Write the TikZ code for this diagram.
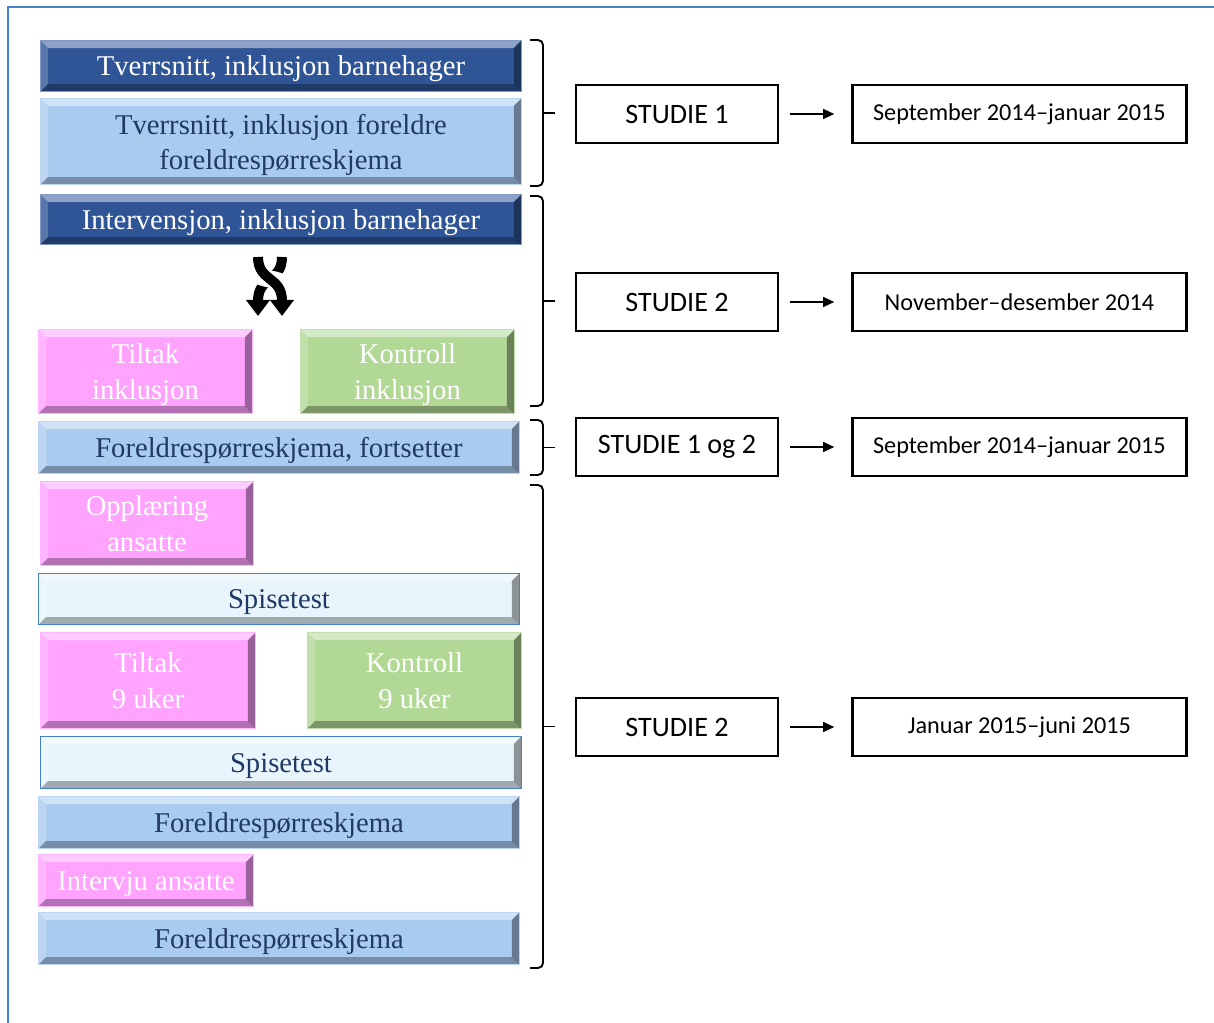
\documentclass[tikz,border=0pt]{standalone}
\usepackage{fontspec}
\newfontfamily\barfont{Liberation Serif}
\newfontfamily\studfont{Carlito}
\usepackage{xcolor}
\usepackage{tikz}
\usetikzlibrary{positioning,calc,arrows.meta}
\definecolor{barDark}{RGB}{47,85,151}
\definecolor{barLight}{RGB}{170,203,240}
\definecolor{barPale}{RGB}{232,245,252}
\definecolor{barPink}{RGB}{255,163,255}
\definecolor{barGreen}{RGB}{178,216,150}
\definecolor{barText}{RGB}{31,56,100}
\definecolor{frameBlue}{RGB}{68,130,200}

\tikzset{
	bevel/.style={path picture={
			\path (path picture bounding box.north west) coordinate (bvNW)
			(path picture bounding box.north east) coordinate (bvNE)
			(path picture bounding box.south east) coordinate (bvSE)
			(path picture bounding box.south west) coordinate (bvSW);
			\fill[white, opacity=0.45] (bvNW) -- (bvNE) -- ([shift={(-0.15cm,-0.15cm)}]bvNE) -- ([shift={(0.15cm,-0.15cm)}]bvNW) -- cycle;
			\fill[white, opacity=0.2] (bvNW) -- ([shift={(0.15cm,-0.15cm)}]bvNW) -- ([shift={(0.15cm,0.15cm)}]bvSW) -- (bvSW) -- cycle;
			\fill[black, opacity=0.3] (bvSW) -- ([shift={(0.15cm,0.15cm)}]bvSW) -- ([shift={(-0.15cm,0.15cm)}]bvSE) -- (bvSE) -- cycle;
			\fill[black, opacity=0.4] (bvNE) -- (bvSE) -- ([shift={(-0.15cm,0.15cm)}]bvSE) -- ([shift={(-0.15cm,-0.15cm)}]bvNE) -- cycle;
	}}
}

\begin{document}
\begin{tikzpicture}[
		x=0.02cm, y=-0.02cm,
		bar/.style={anchor=north west, inner sep=0pt, align=center, line width=0.6pt, bevel,
			text depth=0pt, font=\barfont\fontsize{16.3}{20}\selectfont},
		darkbar/.style={bar, fill=barDark, draw=barDark!60!white, text=white},
		lightbar/.style={bar, fill=barLight, draw=barLight!80!white, text=barText},
		palebar/.style={bar, fill=barPale, draw=frameBlue, text=barText},
		pinkbar/.style={bar, fill=barPink, draw=barPink!80!white, text=white},
		greenbar/.style={bar, fill=barGreen, draw=barGreen!80!white, text=white},
		studbox/.style={draw, line width=1.4pt, minimum width=4.04cm, minimum height=1.16cm,
			font=\studfont\fontsize{16}{19}\selectfont},
		datebox/.style={draw, line width=1.4pt, minimum width=6.68cm, minimum height=1.16cm,
			font=\studfont\fontsize{13.8}{17}\selectfont},
		link/.style={-{Triangle[width=0.2cm,length=0.22cm]}, line width=0.6pt,
			shorten <=0.22cm, shorten >=0.34cm},
		brk/.style={line width=1.1pt, rounded corners=0.1cm},
		twist/.style={line width=0.2cm, -{Triangle[width=0.46cm,length=0.32cm]}}
		]
		
		\useasboundingbox (0,0) rectangle (1214,1023);
		\draw[frameBlue, line width=0.8pt] (8,1023) -- (8,7) -- (1214,7);
		
		% ===== venstre kolonne =====
		\node[darkbar, minimum width=9.62cm, minimum height=1.02cm] (tvBarn) at (40,40) {Tverrsnitt, inklusjon barnehager};
		\node[lightbar, minimum width=9.62cm, minimum height=1.72cm] (tvForeldre) at (40,98) {Tverrsnitt, inklusjon foreldre\\foreldrespørreskjema};
		\node[darkbar, minimum width=9.62cm, minimum height=1.0cm] (intBarn) at (40,194) {Intervensjon, inklusjon barnehager};
		
		% ===== kryssende piler =====
		\draw[twist] (282,257) .. controls (282,282) and (258,276) .. (258,316);
		\draw[white, line width=0.34cm, shorten <=0.3cm, shorten >=0.6cm] (258,257) .. controls (258,282) and (282,276) .. (282,316);
		\draw[twist] (258,257) .. controls (258,282) and (282,276) .. (282,316);
		
		\node[pinkbar, minimum width=4.28cm, minimum height=1.68cm] (tiltakInkl) at (38,329) {Tiltak\\inklusjon};
		\node[greenbar, minimum width=4.28cm, minimum height=1.68cm] (kontrollInkl) at (300,329) {Kontroll\\inklusjon};
		\node[lightbar, minimum width=9.62cm, minimum height=1.04cm] (forFortsetter) at (38,421) {Foreldrespørreskjema, fortsetter};
		\node[pinkbar, minimum width=4.26cm, minimum height=1.68cm] (opplaering) at (40,481) {Opplæring\\ansatte};
		\node[palebar, minimum width=9.62cm, minimum height=1.02cm] (spise1) at (38,573) {Spisetest};
		\node[pinkbar, minimum width=4.3cm, minimum height=1.92cm] (tiltak9) at (40,632) {Tiltak\\9 uker};
		\node[greenbar, minimum width=4.28cm, minimum height=1.92cm] (kontroll9) at (307,632) {Kontroll\\9 uker};
		\node[palebar, minimum width=9.62cm, minimum height=1.04cm] (spise2) at (40,736) {Spisetest};
		\node[lightbar, minimum width=9.62cm, minimum height=1.04cm] (foreldre1) at (38,796) {Foreldrespørreskjema};
		\node[pinkbar, minimum width=4.3cm, minimum height=1.04cm] (intervju) at (38,854) {Intervju ansatte};
		\node[lightbar, minimum width=9.62cm, minimum height=1.04cm] (foreldre2) at (38,912) {Foreldrespørreskjema};
		
		% ===== klammer =====
		\foreach \t/\b in {40/186, 196/406, 420/475, 485/968}{
			\draw[brk] (530,\t) -- (543,\t) -- (543,\b) -- (530,\b);
			\draw[brk] (543,{(\t+\b)/2}) -- (555,{(\t+\b)/2});
		}
		
		% ===== studier og perioder =====
		\foreach \i/\y/\s/\d in {1/114/STUDIE 1/September 2014–januar 2015,
			2/302/STUDIE 2/November–desember 2014,
			3/447/STUDIE 1 og 2/September 2014–januar 2015,
			4/727/STUDIE 2/Januar 2015–juni 2015}{
			\node[studbox] (S\i) at (677,\y) {\s};
			\node[datebox, right=1.44cm of S\i] (D\i) {\d};
			\draw[link] (S\i) -- (D\i);
		}
		
	\end{tikzpicture}
\end{document}
